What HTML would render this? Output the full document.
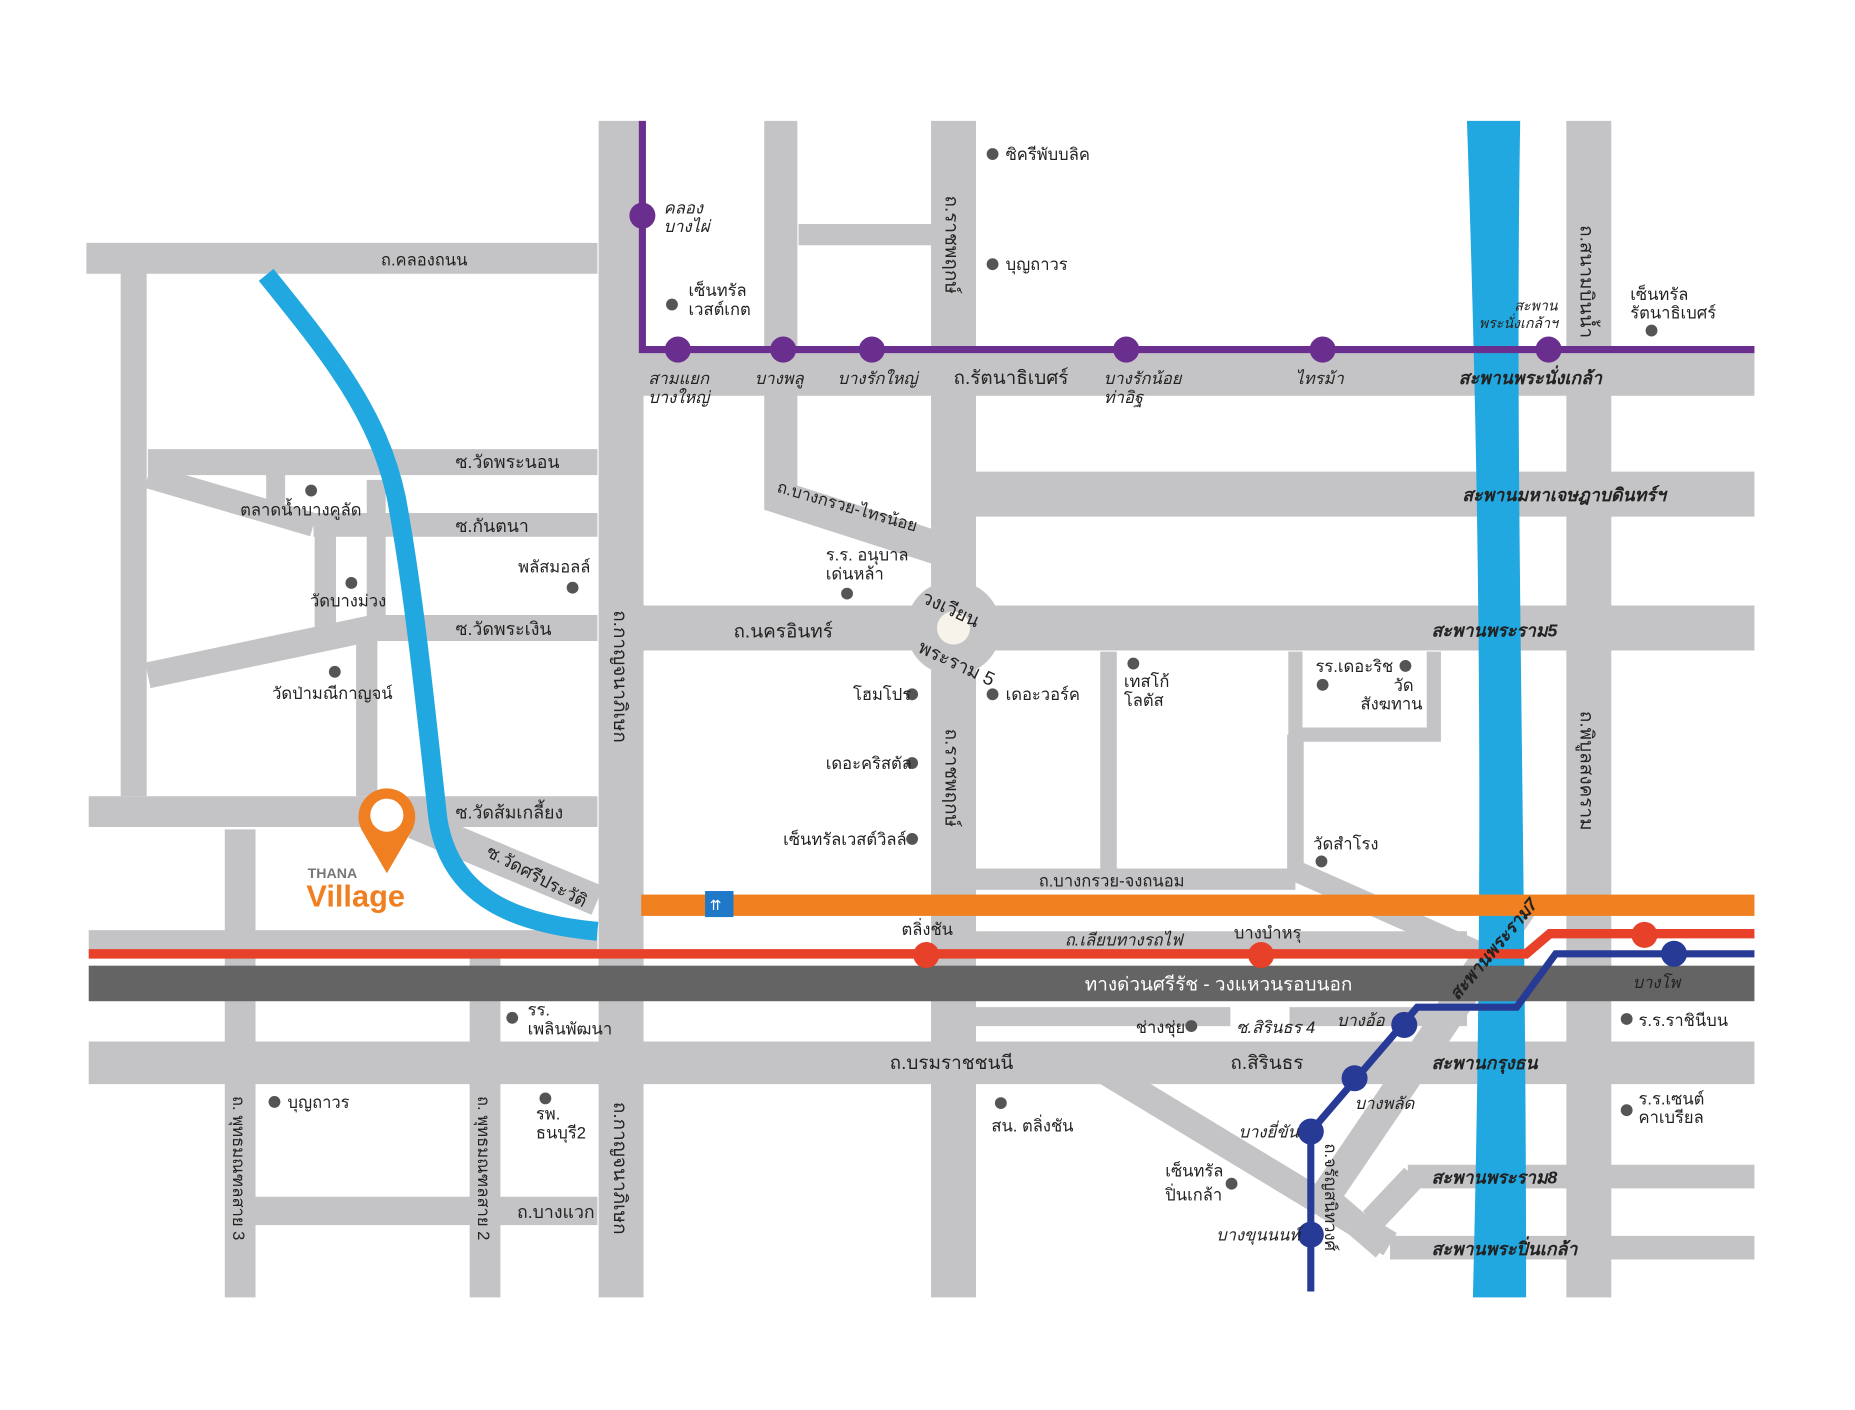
<!DOCTYPE html>
<html><head><meta charset="utf-8"><style>
html,body{margin:0;padding:0;background:#fff;}
svg{display:block}
text{font-family:"Liberation Sans","Noto Sans CJK SC",sans-serif;font-size:14px;fill:#222}
.b{font-weight:bold;font-size:15px}
.i{font-style:italic}
.w{fill:#fff}
</style></head><body>
<svg width="1855" height="1410" viewBox="0 0 1568 1190" preserveAspectRatio="none" xmlns="http://www.w3.org/2000/svg">
<rect width="1568" height="1190" fill="#fff"/>
<g stroke="#c4c4c6" fill="none" stroke-linecap="butt">
<line x1="525" y1="102" x2="525" y2="1095" stroke-width="38"/>
<line x1="806" y1="102" x2="806" y2="1095" stroke-width="38"/>
<line x1="1343" y1="102" x2="1343" y2="1095" stroke-width="38"/>
<polyline points="660,102 660,420 800,465" stroke-width="28"/>
<line x1="675" y1="198" x2="790" y2="198" stroke-width="18"/>
<line x1="73" y1="218" x2="505" y2="218" stroke-width="26"/>
<line x1="113" y1="218" x2="113" y2="672" stroke-width="22"/>
<line x1="540" y1="315" x2="1483" y2="315" stroke-width="38"/>
<line x1="825" y1="417" x2="1483" y2="417" stroke-width="38"/>
<line x1="540" y1="530" x2="1483" y2="530" stroke-width="38"/>
<line x1="125" y1="390" x2="505" y2="390" stroke-width="22"/>
<line x1="265" y1="443" x2="505" y2="443" stroke-width="20"/>
<line x1="125" y1="402" x2="265" y2="443" stroke-width="20"/>
<line x1="233" y1="400" x2="233" y2="425" stroke-width="16"/>
<line x1="275" y1="443" x2="275" y2="540" stroke-width="18"/>
<line x1="125" y1="570" x2="315" y2="530" stroke-width="22"/>
<line x1="310" y1="530" x2="505" y2="530" stroke-width="22"/>
<line x1="310" y1="530" x2="310" y2="672" stroke-width="18"/>
<line x1="318" y1="405" x2="318" y2="530" stroke-width="16"/>
<line x1="75" y1="685" x2="505" y2="685" stroke-width="26"/>
<line x1="350" y1="695" x2="505" y2="760" stroke-width="26"/>
<line x1="75" y1="795" x2="505" y2="795" stroke-width="20"/>
<line x1="203" y1="700" x2="203" y2="1095" stroke-width="26"/>
<line x1="410" y1="800" x2="410" y2="1095" stroke-width="26"/>
<line x1="203" y1="1022" x2="505" y2="1022" stroke-width="24"/>
<line x1="75" y1="897" x2="1483" y2="897" stroke-width="36"/>
<line x1="825" y1="742" x2="1095" y2="742" stroke-width="18"/>
<line x1="937" y1="550" x2="937" y2="735" stroke-width="14"/>
<polyline points="1095,550 1095,620 1212,620 1212,550" stroke-width="12"/>
<line x1="1095" y1="620" x2="1095" y2="740" stroke-width="14"/>
<line x1="1095" y1="735" x2="1260" y2="808" stroke-width="18"/>
<line x1="825" y1="794" x2="1240" y2="794" stroke-width="16"/>
<line x1="1090" y1="858" x2="1240" y2="858" stroke-width="16"/>
<line x1="820" y1="858" x2="1040" y2="858" stroke-width="16"/>
<line x1="935" y1="905" x2="1175" y2="1050" stroke-width="22"/>
<line x1="1290" y1="760" x2="1120" y2="1010" stroke-width="26"/>
<line x1="1120" y1="1010" x2="1170" y2="1053" stroke-width="22"/>
<line x1="1160" y1="1030" x2="1195" y2="993" stroke-width="22"/>
<line x1="1190" y1="993" x2="1483" y2="993" stroke-width="20"/>
<line x1="1175" y1="1053" x2="1483" y2="1053" stroke-width="20"/>
</g>
<circle cx="806" cy="530" r="40" fill="#c4c4c6"/>
<circle cx="806" cy="530" r="14" fill="#f5f3ea"/>
<path d="M225,232 C280,300 320,350 335,420 C350,500 360,600 370,690 C380,760 440,780 505,786" stroke="#22a8e0" stroke-width="16" fill="none"/>
<path d="M1240,102 L1285,102 C1280,400 1290,700 1290,1095 L1245,1095 C1255,700 1250,400 1240,102 Z" fill="#22a8e0"/>
<rect x="542" y="755" width="941" height="18" fill="#f08020"/>
<rect x="596" y="752" width="24" height="22" fill="#1f78c8"/>
<text x="600" y="768" class="w" style="font-size:12px">⇈</text>
<rect x="75" y="815" width="1408" height="30" fill="#646464"/>
<text x="1030" y="836" class="w" text-anchor="middle" style="font-size:16px">ทางด่วนศรีรัช - วงแหวนรอบนอก</text>
<polyline points="75,805 1290,805 1310,788 1483,788" stroke="#e8412a" stroke-width="8" fill="none"/>
<g fill="#e8412a"><circle cx="783" cy="806" r="11"/><circle cx="1066" cy="806" r="11"/><circle cx="1390" cy="789" r="11"/></g>
<polyline points="543,102 543,295 1483,295" stroke="#6a2e8e" stroke-width="6" fill="none"/>
<g fill="#6a2e8e"><circle cx="543" cy="182" r="11"/><circle cx="573" cy="295" r="11"/><circle cx="662" cy="295" r="11"/><circle cx="737" cy="295" r="11"/><circle cx="952" cy="295" r="11"/><circle cx="1118" cy="295" r="11"/><circle cx="1309" cy="295" r="11"/></g>
<polyline points="1483,805 1315,805 1282,850 1198,850 1108,955 1108,1090" stroke="#263a96" stroke-width="6" fill="none"/>
<g fill="#263a96"><circle cx="1415" cy="805" r="11"/><circle cx="1187" cy="865" r="11"/><circle cx="1145" cy="910" r="11"/><circle cx="1108" cy="955" r="11"/><circle cx="1108" cy="1042" r="11"/></g>
<path d="M327,737 L306,701 A24,24 0 1 1 348,701 Z" fill="#f07f22"/>
<circle cx="327" cy="688" r="14" fill="#fff"/>
<text x="260" y="741" style="font-size:12px;font-weight:bold;fill:#777">THANA</text>
<text x="259" y="765" style="font-size:26px;font-weight:bold;fill:#f07f22">Village</text>
<g fill="#555">
<circle cx="839" cy="130" r="5"/><circle cx="839" cy="223" r="5"/><circle cx="568" cy="257" r="5"/><circle cx="1396" cy="279" r="5"/>
<circle cx="263" cy="414" r="5"/><circle cx="484" cy="496" r="5"/><circle cx="297" cy="492" r="5"/><circle cx="283" cy="567" r="5"/>
<circle cx="716" cy="501" r="5"/><circle cx="771" cy="586" r="5"/><circle cx="839" cy="586" r="5"/><circle cx="771" cy="644" r="5"/><circle cx="771" cy="708" r="5"/>
<circle cx="958" cy="560" r="5"/><circle cx="1118" cy="578" r="5"/><circle cx="1188" cy="562" r="5"/><circle cx="1117" cy="727" r="5"/>
<circle cx="433" cy="859" r="5"/><circle cx="1007" cy="866" r="5"/><circle cx="1375" cy="860" r="5"/><circle cx="232" cy="930" r="5"/><circle cx="461" cy="927" r="5"/>
<circle cx="846" cy="931" r="5"/><circle cx="1375" cy="937" r="5"/><circle cx="1041" cy="999" r="5"/>
</g>
<text x="850" y="135">ซิครีพับบลิค</text>
<text x="850" y="228">บุญถาวร</text>
<text x="582" y="250">เซ็นทรัล</text><text x="582" y="266">เวสต์เกต</text>
<text x="1378" y="253">เซ็นทรัล</text><text x="1378" y="269">รัตนาธิเบศร์</text>
<text x="322" y="224">ถ.คลองถนน</text>
<text x="561" y="180" class="i">คลอง</text><text x="561" y="196" class="i">บางไผ่</text>
<text x="548" y="324" class="i">สามแยก</text><text x="548" y="340" class="i">บางใหญ่</text>
<text x="638" y="324" class="i">บางพลู</text>
<text x="708" y="324" class="i">บางรักใหญ่</text>
<text x="806" y="324" style="font-size:16px">ถ.รัตนาธิเบศร์</text>
<text x="933" y="324" class="i">บางรักน้อย</text><text x="933" y="340" class="i">ท่าอิฐ</text>
<text x="1095" y="324" class="i">ไทรม้า</text>
<text x="1233" y="324" class="b i">สะพานพระนั่งเกล้า</text>
<text x="1280" y="262" class="i" style="font-size:12px">สะพาน</text><text x="1250" y="277" class="i" style="font-size:12px">พระนั่งเกล้าฯ</text>
<text x="1236" y="423" class="b i">สะพานมหาเจษฎาบดินทร์ฯ</text>
<text x="1210" y="537" class="b i">สะพานพระราม5</text>
<text x="385" y="395" style="font-size:15px">ซ.วัดพระนอน</text>
<text x="385" y="449" style="font-size:15px">ซ.กันตนา</text>
<text x="385" y="536" style="font-size:15px">ซ.วัดพระเงิน</text>
<text x="385" y="691" style="font-size:15px">ซ.วัดส้มเกลี้ยง</text>
<text x="410" y="722" style="font-size:15px" transform="rotate(28 410 722)">ซ.วัดศรีประวัติ</text>
<text x="203" y="435">ตลาดน้ำบางคูลัด</text>
<text x="438" y="483">พลัสมอลล์</text>
<text x="262" y="512">วัดบางม่วง</text>
<text x="230" y="590">วัดป่ามณีกาญจน์</text>
<text x="620" y="538" style="font-size:16px">ถ.นครอินทร์</text>
<text x="656" y="415" transform="rotate(16 656 415)">ถ.บางกรวย-ไทรน้อย</text>
<text x="698" y="473">ร.ร. อนุบาล</text><text x="698" y="489">เด่นหล้า</text>
<text x="778" y="508" transform="rotate(25 778 508)" style="font-size:16px">วงเวียน</text>
<text x="775" y="550" transform="rotate(25 775 550)" style="font-size:16px">พระราม 5</text>
<text x="721" y="591">โฮมโปร</text>
<text x="850" y="591">เดอะวอร์ค</text>
<text x="698" y="649">เดอะคริสตัล</text>
<text x="662" y="713">เซ็นทรัลเวสต์วิลล์</text>
<text x="950" y="580">เทสโก้</text><text x="950" y="596">โลตัส</text>
<text x="1112" y="567">รร.เดอะริช</text>
<text x="1178" y="583">วัด</text><text x="1150" y="599">สังฆทาน</text>
<text x="1110" y="717">วัดสำโรง</text>
<text x="878" y="748">ถ.บางกรวย-จงถนอม</text>
<text x="762" y="789">ตลิ่งชัน</text>
<text x="900" y="798" class="i">ถ.เลียบทางรถไฟ</text>
<text x="1043" y="792">บางบำหรุ</text>
<text x="1232" y="845" class="b i" transform="rotate(-50 1232 845)">สะพานพระราม7</text>
<text x="1380" y="834" class="i">บางโพ</text>
<text x="446" y="857">รร.</text><text x="446" y="873">เพลินพัฒนา</text>
<text x="960" y="872">ช่างชุ่ย</text>
<text x="1045" y="872" class="i">ซ.สิรินธร 4</text>
<text x="1130" y="866" class="i">บางอ้อ</text>
<text x="1385" y="866">ร.ร.ราชินีบน</text>
<text x="752" y="902" style="font-size:16px">ถ.บรมราชชนนี</text>
<text x="1040" y="902" style="font-size:16px">ถ.สิรินธร</text>
<text x="1210" y="902" class="b i">สะพานกรุงธน</text>
<text x="243" y="935">บุญถาวร</text>
<text x="453" y="945">รพ.</text><text x="453" y="961">ธนบุรี2</text>
<text x="838" y="955">สน. ตลิ่งชัน</text>
<text x="1145" y="936" class="i">บางพลัด</text>
<text x="1385" y="932">ร.ร.เซนต์</text><text x="1385" y="948">คาเบรียล</text>
<text x="1047" y="960" class="i">บางยี่ขัน</text>
<text x="985" y="993">เซ็นทรัล</text><text x="985" y="1013">ปิ่นเกล้า</text>
<text x="1210" y="999" class="b i">สะพานพระราม8</text>
<text x="1028" y="1047" class="i">บางขุนนนท์</text>
<text x="1210" y="1059" class="b i">สะพานพระปิ่นเกล้า</text>
<text x="437" y="1028" style="font-size:15px">ถ.บางแวก</text>
<text x="799" y="165" transform="rotate(90 799 165)" style="font-size:16px">ถ.ราชพฤกษ์</text>
<text x="799" y="615" transform="rotate(90 799 615)" style="font-size:16px">ถ.ราชพฤกษ์</text>
<text x="519" y="515" transform="rotate(90 519 515)" style="font-size:16px">ถ.กาญจนาภิเษก</text>
<text x="519" y="930" transform="rotate(90 519 930)" style="font-size:16px">ถ.กาญจนาภิเษก</text>
<text x="1336" y="190" transform="rotate(90 1336 190)" style="font-size:16px">ถ.สนามบินน้ำ</text>
<text x="1336" y="600" transform="rotate(90 1336 600)" style="font-size:16px">ถ.พิบูลสงคราม</text>
<text x="197" y="925" transform="rotate(90 197 925)">ถ. พุทธมณฑลสาย 3</text>
<text x="404" y="925" transform="rotate(90 404 925)">ถ. พุทธมณฑลสาย 2</text>
<text x="1120" y="965" transform="rotate(90 1120 965)">ถ.จรัญสนิทวงศ์</text>
</svg>
</body></html>
